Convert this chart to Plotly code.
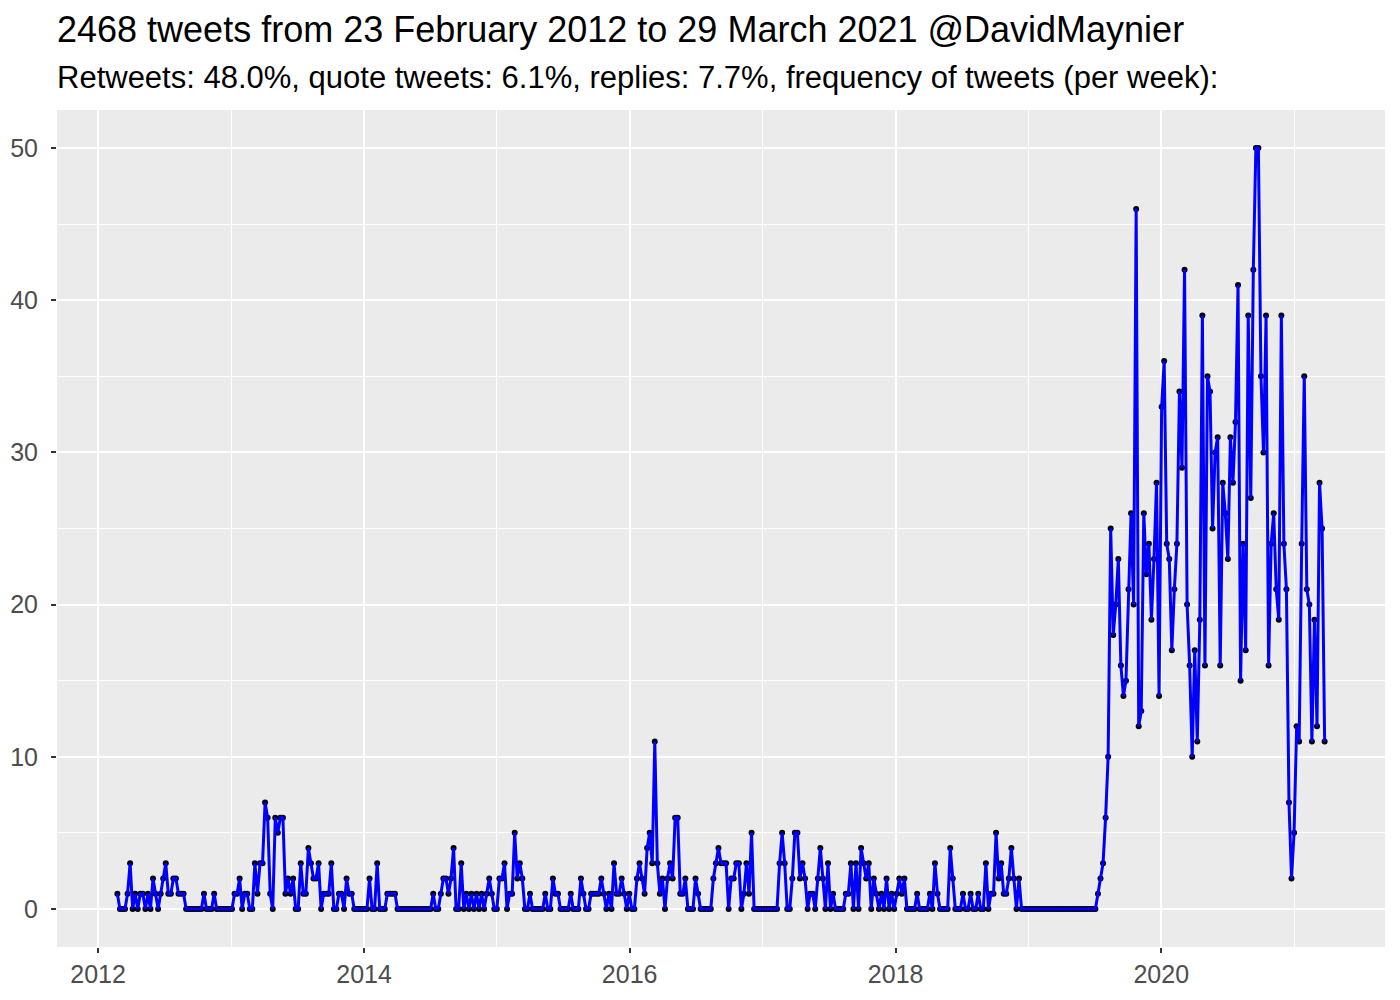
import pandas as pd
import plotly.graph_objects as go

# ---- data (weekly tweet counts) ----
start_date = "2012-02-23"

counts_2012 = [1, 0, 0, 0, 1, 3, 0, 1, 0, 1, 1, 0, 1, 0, 2,
               1, 0, 1, 2, 3, 1, 1, 2, 2, 1, 1, 1,
               0, 0, 0, 0, 0, 0, 0, 1, 0, 0, 0, 1,
               0, 0, 0, 0, 0, 0, 0, 1, 1, 2]
counts_2013 = [0, 1, 1, 0, 0, 3, 1, 3, 3, 7, 6, 1, 0, 6, 5, 6, 6, 1, 2, 1,
               2, 0, 0, 3, 1, 1, 4, 3, 2, 2, 3, 0, 1, 1, 1, 3, 0, 0, 1, 1,
               0, 2, 1, 1, 0, 0, 0, 0, 0, 0]
counts_2014 = [2, 0, 0, 3, 0, 0, 0, 1, 1, 1, 1,
               0, 0, 0, 0, 0, 0, 0, 0, 0, 0, 0, 0, 0, 0,
               1, 0, 0, 1, 2, 2, 1, 2, 4, 0, 0, 3, 0, 1, 0, 1, 0, 1, 0, 1,
               0, 1, 2, 1, 0, 0]
counts_2015 = [2, 2, 3, 0, 1, 1, 5, 2, 3, 2, 0, 0, 1, 0, 0, 0, 0, 0, 1, 0,
               0, 2, 1, 1, 0, 0, 0, 0, 1, 0, 0, 0, 2, 1, 0, 0, 1, 1, 1, 1,
               2, 1, 0, 1, 0, 3, 1, 1, 2]
counts_2016 = [1, 0, 1, 0, 0, 2, 3, 2, 1, 4, 5, 3, 11, 3, 1, 2, 0, 2, 3, 2,
               6, 6, 1, 1, 2, 0, 0, 0, 2, 1, 0, 0, 0, 0, 0, 2, 3, 4, 3, 3,
               3, 0, 2, 2, 3, 3, 0, 1, 3, 1, 5, 0]
counts_2017 = [0, 0, 0, 0, 0, 0, 0, 0, 0,
               3, 5, 3, 0, 0, 2, 5, 5, 2, 3, 2, 0, 1, 1, 0, 2, 4, 2, 0, 3,
               0, 1, 0, 0, 0, 0, 1, 1, 3, 0, 3, 0, 4, 3, 2, 3, 0, 2, 1, 0,
               1, 0, 2, 0, 1, 0, 1, 2, 1, 2, 0]
counts_2018 = [0, 0, 0, 1, 0, 0, 0, 0, 1, 0, 3, 1, 0, 0, 0, 0, 4, 2, 0, 0,
               0, 1, 0, 0, 1, 0, 0, 1, 0, 0, 3, 0, 1, 1, 5, 2, 3, 1, 1, 2,
               4, 2, 0, 2, 0]
counts_2019 = [0, 0, 0, 0, 0, 0, 0, 0, 0, 0, 0, 0, 0, 0, 0, 0, 0, 0, 0, 0,
               0, 0, 0, 0, 0, 0, 0, 0, 0]
counts_2019_2021 = [1, 2, 3, 6, 10, 25, 18, 20, 23, 16, 14, 15, 21, 26, 20,
                    46, 12, 13, 26, 22, 24, 19, 23, 28, 14, 33, 36, 24, 23, 17,
                    21, 24, 34, 29, 42, 20, 16, 10, 17, 11, 19, 39, 16, 35, 34,
                    25, 30, 31, 16, 28, 26, 23, 31, 28, 32, 41, 15, 24, 17, 39,
                    27, 42, 50, 50, 35, 30, 39, 16, 24, 26, 21, 19, 39, 24, 21,
                    7, 2, 5, 12, 11, 24, 35, 21, 20, 11, 19, 12, 28, 25, 11]

year_ticks = ["2012", "2014", "2016", "2018", "2020"]
year_minor = ["2013", "2015", "2017", "2019", "2021"]
y_ticks = [0, 10, 20, 30, 40, 50]
y_minor = [5, 15, 25, 35, 45]

title_text = "2468 tweets from 23 February 2012 to 29 March 2021 @DavidMaynier"
subtitle_text = ("Retweets: 48.0%, quote tweets: 6.1%, replies: 7.7%, "
                 "frequency of tweets (per week):")

counts = (counts_2012 + counts_2013 + counts_2014 + counts_2015 + counts_2016
          + counts_2017 + counts_2018 + counts_2019 + counts_2019_2021)
weeks = pd.date_range(start_date, periods=len(counts), freq="7D")

FONT = "Liberation Sans, Arial, Helvetica, sans-serif"

fig = go.Figure()
fig.add_trace(go.Scatter(x=weeks, y=counts, mode="markers",
                         marker=dict(color="black", size=6),
                         hoverinfo="skip"))
fig.add_trace(go.Scatter(x=weeks, y=counts, mode="lines",
                         line=dict(color="#0000FF", width=3)))

span = weeks[-1] - weeks[0]
x_lo = weeks[0] - span * 0.05
x_hi = weeks[-1] + span * 0.05

fig.update_xaxes(
    range=[x_lo, x_hi],
    tickvals=[pd.Timestamp(y + "-01-01") for y in year_ticks],
    ticktext=year_ticks,
    showgrid=True, gridcolor="white", gridwidth=2.2,
    minor=dict(tickvals=[pd.Timestamp(y + "-01-01") for y in year_minor],
               showgrid=True, gridcolor="white", gridwidth=1.1, ticks=""),
    ticks="outside", ticklen=5, tickwidth=1.5, tickcolor="#333333",
    tickfont=dict(family=FONT, size=25, color="#4D4D4D"),
    ticklabelstandoff=0,
    zeroline=False, showline=False, automargin=False,
)
fig.update_yaxes(
    range=[-2.5, 52.5],
    tickvals=y_ticks,
    ticktext=[str(v) for v in y_ticks],
    showgrid=True, gridcolor="white", gridwidth=2.2,
    minor=dict(tickvals=y_minor, showgrid=True, gridcolor="white",
               gridwidth=1.1, ticks=""),
    ticks="outside", ticklen=5, tickwidth=1.5, tickcolor="#333333",
    tickfont=dict(family=FONT, size=25, color="#4D4D4D"),
    ticklabelstandoff=8,
    zeroline=False, showline=False, automargin=False,
)

fig.add_annotation(text=title_text, xref="paper", yref="paper", x=0, y=1,
                   xanchor="left", yanchor="bottom", yshift=58, xshift=-2,
                   showarrow=False, font=dict(family=FONT, size=36, color="black"))
fig.add_annotation(text=subtitle_text, xref="paper", yref="paper", x=0, y=1,
                   xanchor="left", yanchor="bottom", yshift=13, xshift=-2,
                   showarrow=False, font=dict(family=FONT, size=31, color="black"))

fig.update_layout(
    width=1400, height=1000,
    margin=dict(l=49, r=23, t=102, b=61),
    plot_bgcolor="#EBEBEB", paper_bgcolor="white",
    showlegend=False,
    font=dict(family=FONT),
)

fig.write_html("out.html")
